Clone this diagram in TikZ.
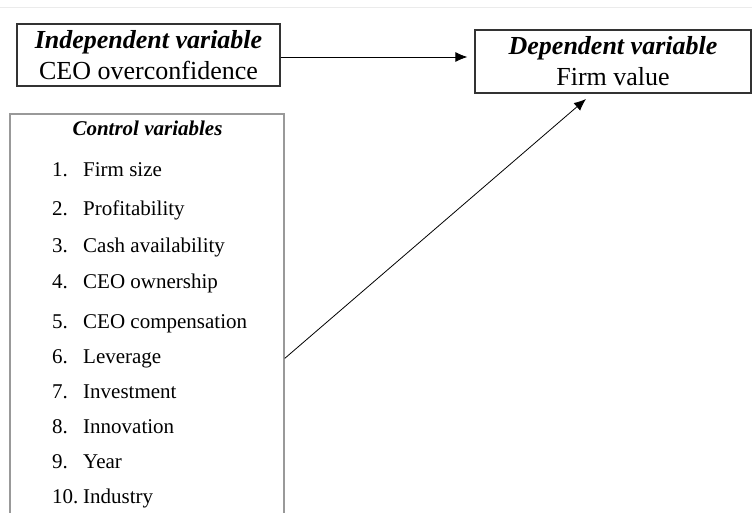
\documentclass[tikz,border=0pt]{standalone}
\usepackage{fontspec}
\setmainfont{Liberation Serif}
\usepackage{tikz}
\usetikzlibrary{arrows.meta}
\tikzset{>={Latex[length=12pt,width=10pt]}}
\tikzstyle{varbox} = [rectangle, draw=black!80, line width=1.2pt, align=center,
    font=\fontsize{26}{31}\selectfont, inner sep=0pt]
\tikzstyle{item} = [anchor=base west, inner sep=0pt,
    font=\fontsize{21}{25}\selectfont]

\begin{document}
\begin{tikzpicture}[x=1pt,y=-1pt]
\useasboundingbox (0,0) rectangle (752,513);
\draw[black!8, line width=1pt] (0,8) -- (752,8);   %faint rule at top
% main variables
\node[varbox, minimum width=263pt, minimum height=62pt] (indep) at (148.5,55)
    {\textbf{\textit{Independent variable}}\\CEO overconfidence};
\node[varbox, minimum width=276pt, minimum height=63pt] (dep) at (613,61.5)
    {\textbf{\textit{Dependent variable}}\\Firm value};
% control box, runs past the bottom
\node[draw=black!40, line width=1.5pt, minimum width=274pt,
    minimum height=420pt] (ctrl) at (147,324) {};
\node[anchor=base, inner sep=0pt,
    font=\fontsize{21}{25}\selectfont\bfseries\itshape] (ctitle) at (147.5,136)
    {Control variables};
\foreach \i/\y/\txt in {1/177/Firm size, 2/215/Profitability,
    3/252/Cash availability, 4/288/CEO ownership, 5/328/CEO compensation,
    6/363/Leverage, 7/398/Investment, 8/433/Innovation, 9/468/Year,
    10/503/Industry}
{\node[item] (n\i) at (52,\y) {\i.};
 \node[item] (t\i) at (83,\y) {\txt};}
\coordinate (lev) at (ctrl.east |- t6);   %leaves box at Leverage
\coordinate (tip) at (586,99);
\draw[->, line width=0.8pt, shorten >=7pt]
    ([yshift=-2pt]indep.east) -- ([yshift=-2pt]indep.east -| dep.west);
\draw[->, line width=0.8pt] (lev) -- (tip);
\end{tikzpicture}
\end{document}
